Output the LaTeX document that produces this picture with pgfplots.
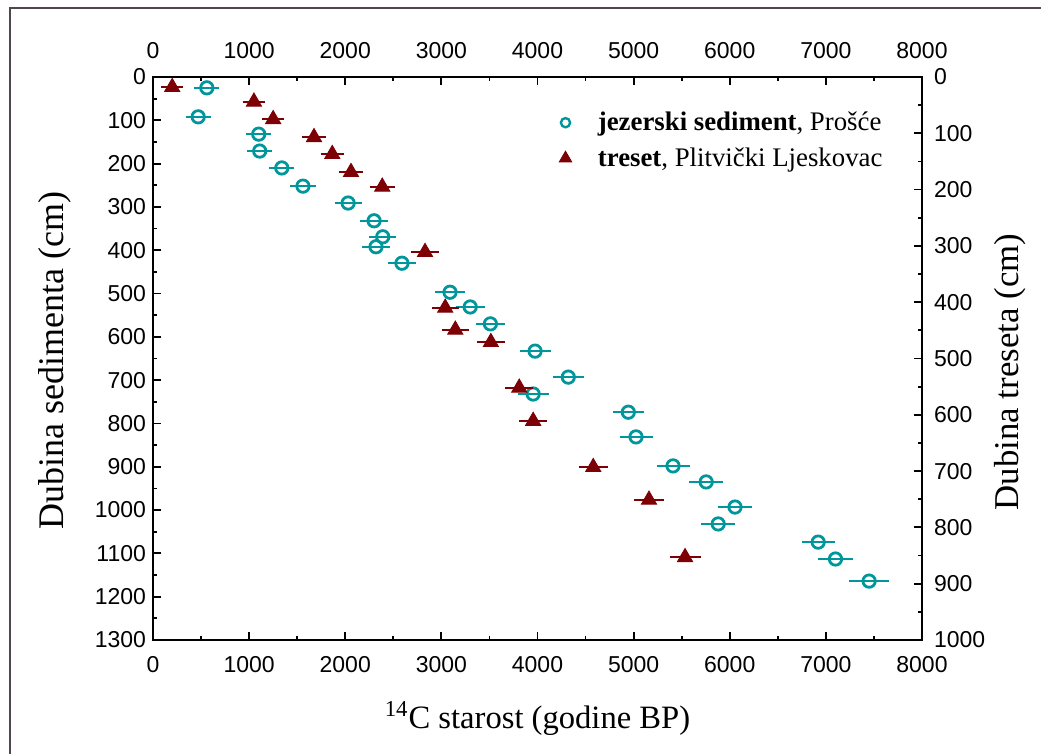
\documentclass[border=0pt]{standalone}
\usepackage{pgfplots}
\pgfplotsset{compat=1.18}
\usepackage{pgfplotstable}
\usepackage{fontspec}
\setmainfont{Liberation Serif}
\newfontfamily\arial{Liberation Sans}
\definecolor{sed}{RGB}{0,150,155}
\definecolor{peat}{RGB}{125,0,5}
\definecolor{framec}{RGB}{80,70,80}

\pgfplotsset{
  legsed/.style={legend image code/.code={\draw[##1, mark size=2.3pt, mark options={line width=1.2pt}] plot coordinates {(0pt,0pt)}; \path (14pt,0pt);}},
  legpeat/.style={legend image code/.code={\draw[##1] plot coordinates {(0pt,0pt)}; \path (14pt,0pt);}},
}

\pgfplotstableread{
x y e
560 25 90
470 92 90
1100 132 90
1110 171 90
1340 210 90
1560 252 95
2030 291 100
2300 332 100
2390 369 100
2320 392 100
2590 430 100
3090 497 110
3300 531 110
3510 570 110
3975 633 120
4320 693 120
3955 732 120
4945 774 120
5025 831 130
5410 898 130
5755 935 135
6055 993 135
5880 1032 135
6920 1074 130
7100 1113 145
7450 1164 165
}\sedtab

\pgfplotstableread{
x y e
200 18 75
1050 44 75
1250 75 75
1675 107 80
1865 137 80
2060 169 80
2385 195 90
2830 311 100
3040 410 100
3145 449 100
3515 471 105
3810 552 105
3955 611 105
4580 693 110
5160 751 115
5535 853 120
}\peattab

\begin{document}
\begin{tikzpicture}
\useasboundingbox (-76.5pt,-57pt) rectangle (444pt,320pt);
\draw[framec, line width=1.2pt] (-71.5pt,-70pt) -- (-71.5pt,316pt) -- (460pt,316pt);
\pgfplotsset{common/.style={
  width=384.5pt, height=281.5pt, scale only axis,
  xmin=0, xmax=8000, y dir=reverse,
  axis line style={line width=1.3pt},
  major tick length=4pt, minor tick length=2pt,
  every tick/.style={black, line width=0.9pt},
  minor x tick num=1, minor y tick num=1,
  xtick distance=1000, ytick distance=100,
  tick label style={font=\arial\fontsize{11.5}{13}\selectfont},
  /pgf/number format/1000 sep={},
  /pgf/number format/assume math mode=true,
}}
\begin{axis}[common, ymin=0, ymax=1300,
  xtick pos=left, ytick pos=left,
  xticklabel style={yshift=-4.5pt},
  xlabel={\textsuperscript{14}C starost (godine BP)},
  ylabel={Dubina sedimenta (cm)},
  every axis x label/.style={at={(axis description cs:0.5,-0.139)}, anchor=center, font=\fontsize{16.3}{19}\selectfont},
  every axis y label/.style={at={(axis description cs:-0.127,0.497)}, anchor=center, rotate=90, font=\fontsize{18}{21}\selectfont},
  legend style={at={(axis description cs:0.52,0.953)}, anchor=north west, draw=none, fill=none,
    font=\fontsize{13.4}{16}\selectfont, row sep=3pt},
  legend cell align=left,
]
\addplot[only marks, mark=o, sed, mark size=3.1pt, mark options={line width=1.4pt}, legsed,
  error bars/.cd, x dir=both, x explicit,
  error bar style={line width=0.9pt}, error mark options={mark size=2pt, line width=0.9pt}]
  table[x=x, y=y, x error=e]{\sedtab};
\addlegendentry{\textbf{jezerski sediment}, Prošće}
\addlegendimage{only marks, mark=triangle*, peat, mark size=3.6pt, legpeat}
\addlegendentry{\textbf{treset}, Plitvički Ljeskovac}
\end{axis}
\begin{axis}[common, ymin=0, ymax=1000,
  xtick pos=right, xticklabel pos=right,
  ytick pos=right, yticklabel pos=right,
  xticklabel style={yshift=5.5pt},
  yticklabel style={xshift=2.5pt},
  ylabel={Dubina treseta (cm)},
  every axis y label/.style={at={(axis description cs:1.114,0.476)}, anchor=center, rotate=90, font=\fontsize{17.4}{20}\selectfont},
]
\addplot[only marks, mark=triangle*, peat, mark size=4.4pt,
  error bars/.cd, x dir=both, x explicit,
  error bar style={line width=0.9pt}, error mark options={mark size=2pt, line width=0.9pt}]
  table[x=x, y=y, x error=e]{\peattab};
\end{axis}
\end{tikzpicture}
\end{document}
